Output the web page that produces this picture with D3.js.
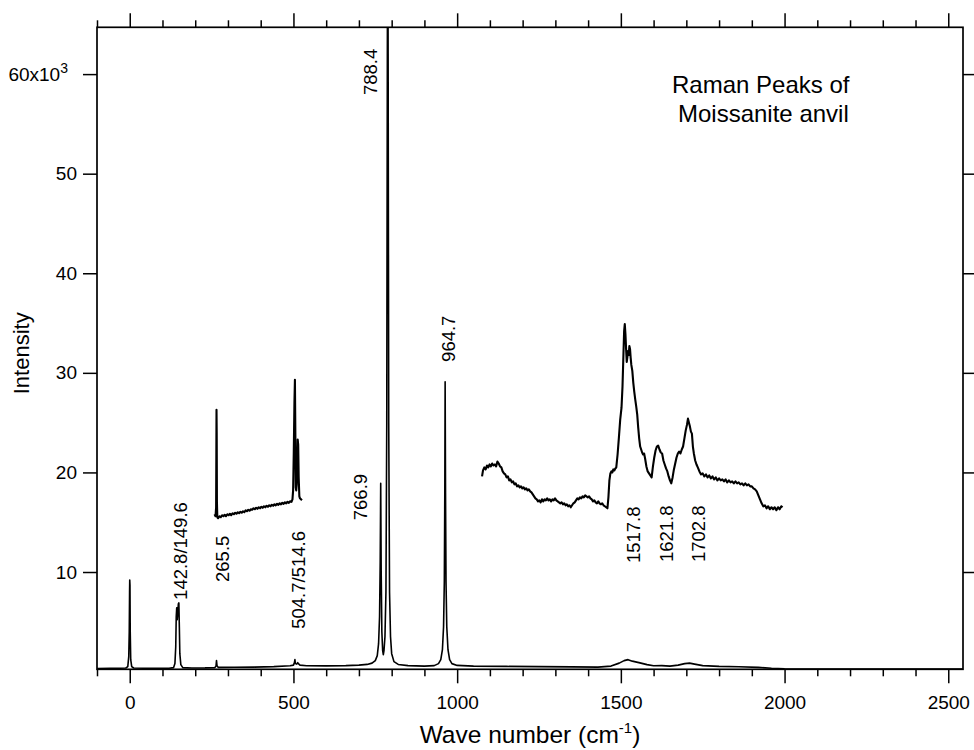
<!DOCTYPE html>
<html>
<head>
<meta charset="utf-8">
<script src="https://cdn.jsdelivr.net/npm/d3@7"></script>
<style>
  body { margin: 0; background: #fff; }
  text { font-family: Arial, 'Liberation Sans', Helvetica, sans-serif; fill: #000; }
</style>
</head>
<body>
<script>
// wave number (cm-1), intensity in units of 10^3
var mainSpectrum = [
  [-100,0.3],[-60,0.32],[-30,0.33],[-12,0.36],[-6,0.5],[-3,1.5],[-1.5,4],[-0.5,8],[0,9.2],[0.7,8.7],[1.5,4],[3,1.2],[6,0.5],[12,0.36],
  [40,0.33],[80,0.33],[120,0.34],[134,0.4],[138,0.8],[140.5,2.5],[142,5.5],[143.5,6.4],[145,5.2],[146.5,5.8],[148.5,6.8],[150,6.9],
  [151.5,4.5],[153,1.8],[156,0.7],[162,0.4],[190,0.36],[230,0.37],[260,0.4],[263.5,0.55],[265,1.1],[266.5,0.6],[270,0.42],[320,0.43],
  [380,0.45],[440,0.5],[490,0.58],[500,0.65],[503,0.9],[504.5,1.2],[506,0.8],[510,0.75],[513,0.9],[515,0.8],[520,0.65],[540,0.58],
  [600,0.57],[660,0.6],[700,0.65],[725,0.72],[740,0.85],[750,1.1],[756,1.6],[760,2.8],[763,5.5],[765,11],[766.5,18.9],[768,10],
  [770,4],[772.5,2.1],[774.5,1.7],[776.5,2.1],[779.5,3.5],[782.5,8],[785,25],[786.8,62],[788,80],[789.2,62],[791,25],[793.5,8],
  [796.5,3.5],[800,1.8],[807,1.0],[820,0.72],[850,0.6],[900,0.55],[930,0.6],[943,0.8],[950,1.2],[955,2.2],[958.5,4.5],[960.8,9],
  [962.3,18],[963.3,29.1],[964.5,18],[966,9],[968.3,4.5],[972,2.2],[977,1.2],[984,0.8],[1000,0.62],[1050,0.55],[1150,0.52],
  [1250,0.5],[1350,0.47],[1430,0.45],[1470,0.55],[1495,0.85],[1510,1.1],[1522,1.2],[1535,1.05],[1555,0.9],[1580,0.7],[1600,0.58],
  [1625,0.6],[1650,0.55],[1675,0.65],[1695,0.8],[1710,0.85],[1725,0.75],[1750,0.6],[1800,0.52],[1860,0.48],[1920,0.42],[1960,0.33],
  [2000,0.28],[2100,0.26],[2250,0.25],[2400,0.26],[2545,0.25]
];

// magnified low-frequency part (offset)
var insetLow = [
  [259,15.8],[262,15.6],[263.8,16.5],[264.5,22],[265,26.3],[265.6,24],[266.3,17],[267.5,15.5],[270,15.4],[274,15.6],[278,15.5],
  [282,15.7],[286,15.6],[290,15.75],[294,15.6],[298,15.8],[302,15.7],[306,15.85],[310,15.7],[314,15.9],[318,15.8],[322,15.95],
  [326,15.85],[330,16.0],[334,15.9],[338,16.05],[342,15.95],[346,16.1],[350,16.0],[354,16.2],[358,16.1],[362,16.25],[366,16.15],
  [370,16.3],[374,16.25],[378,16.4],[382,16.3],[386,16.45],[390,16.35],[394,16.5],[398,16.4],[402,16.55],[406,16.45],[410,16.6],
  [414,16.5],[418,16.65],[422,16.55],[426,16.7],[430,16.6],[434,16.75],[438,16.65],[442,16.8],[446,16.7],[450,16.85],[454,16.75],
  [458,16.9],[462,16.8],[466,16.95],[470,16.85],[474,17.0],[478,16.9],[482,17.05],[486,16.95],[490,17.1],[494,17.05],[497,17.3],
  [499,18.2],[501,22],[503,27],[504.5,29.3],[505.8,24],[507,18.5],[508.5,18.2],[510,18.8],[511.5,20.5],[513,23.3],[514.5,22.8],
  [516,19.5],[518,17.6],[520,17.4],[523,17.3],[526,17.2]
];

// magnified high-frequency part (offset)
var insetHigh = [
  [1076,19.6],[1079,20.2],[1083,20.5],[1087,20.3],[1091,20.7],[1095,20.5],[1099,20.8],[1103,20.6],[1107,20.9],[1111,20.7],
  [1115,20.8],[1119,20.6],[1123,21.1],[1127,20.9],[1131,20.6],[1135,20.5],[1139,20.1],[1143,19.9],[1147,19.8],[1151,19.5],
  [1155,19.6],[1159,19.2],[1163,19.3],[1167,19.0],[1171,19.1],[1175,18.8],[1179,18.9],[1183,18.6],[1187,18.7],[1191,18.5],
  [1195,18.6],[1199,18.4],[1203,18.5],[1207,18.3],[1211,18.4],[1215,18.2],[1219,18.3],[1223,18.1],[1227,18.0],[1231,17.8],
  [1235,17.6],[1239,17.4],[1243,17.3],[1247,17.1],[1251,17.2],[1255,17.0],[1259,17.3],[1263,17.1],[1267,17.3],[1271,17.2],
  [1275,17.4],[1279,17.2],[1283,17.3],[1287,17.1],[1291,17.3],[1295,17.2],[1299,17.4],[1303,17.2],[1307,17.1],[1311,17.0],
  [1315,16.9],[1319,17.0],[1323,16.8],[1327,16.9],[1331,16.7],[1335,16.8],[1339,16.6],[1343,16.7],[1347,16.5],[1351,16.7],
  [1355,16.9],[1359,17.0],[1363,17.2],[1367,17.4],[1371,17.3],[1375,17.5],[1379,17.4],[1383,17.6],[1387,17.5],[1391,17.7],
  [1395,17.6],[1399,17.5],[1403,17.6],[1407,17.4],[1411,17.3],[1415,17.1],[1419,17.2],[1423,17.0],[1427,16.9],[1431,17.1],
  [1435,16.9],[1439,16.8],[1443,16.9],[1447,16.7],[1451,16.6],[1455,16.5],[1459,16.4],[1462,17.5],[1465,19.2],[1468,19.9],
  [1471,20.1],[1474,20.0],[1477,20.3],[1480,20.2],[1483,20.4],[1486,20.5],[1490,21.8],[1494,23.5],[1498,25.3],[1502,26.5],
  [1505,28.6],[1508,32.0],[1510,34.2],[1512,34.9],[1514,33.9],[1516,32.4],[1518,31.1],[1520,31.6],[1522,32.2],[1524,31.8],
  [1526,32.7],[1528,32.4],[1530,31.5],[1532,30.8],[1535,30.2],[1538,29.0],[1541,28.1],[1544,27.3],[1547,26.6],[1550,25.8],
  [1553,24.5],[1556,23.4],[1559,22.6],[1562,22.3],[1565,22.0],[1568,21.8],[1571,21.9],[1574,21.4],[1578,20.6],[1582,20.1],
  [1586,19.9],[1590,19.7],[1594,19.5],[1598,20.6],[1602,21.5],[1606,22.2],[1610,22.6],[1614,22.7],[1618,22.3],[1622,22.0],
  [1626,21.9],[1630,21.2],[1634,20.8],[1638,20.4],[1642,20.1],[1646,19.6],[1650,19.2],[1654,18.9],[1658,19.5],[1662,20.3],
  [1666,20.9],[1670,21.5],[1674,21.9],[1678,22.1],[1682,21.9],[1686,22.3],[1690,22.6],[1694,23.4],[1698,24.2],[1702,24.8],
  [1705,25.4],[1708,25.0],[1711,24.6],[1714,24.1],[1717,23.9],[1720,22.6],[1723,21.9],[1727,21.2],[1731,20.8],[1735,20.5],
  [1740,20.1],[1745,19.8],[1750,19.9],[1755,19.6],[1760,19.8],[1765,19.5],[1770,19.7],[1775,19.4],[1780,19.6],[1785,19.3],
  [1790,19.5],[1795,19.2],[1800,19.4],[1805,19.2],[1810,19.3],[1815,19.1],[1820,19.3],[1825,19.0],[1830,19.2],[1835,19.0],
  [1840,19.1],[1845,18.9],[1850,19.1],[1855,18.9],[1860,19.0],[1865,18.8],[1870,18.9],[1875,18.7],[1880,18.9],[1885,18.7],
  [1890,18.8],[1895,18.6],[1900,18.6],[1905,18.4],[1910,18.3],[1915,18.1],[1920,17.7],[1925,17.3],[1930,16.9],[1935,16.6],
  [1940,16.7],[1945,16.4],[1950,16.6],[1955,16.3],[1960,16.5],[1965,16.3],[1970,16.5],[1975,16.2],[1980,16.5],[1985,16.3],
  [1990,16.6],[1994,16.5]
];

var peakLabels = ['142.8/149.6', '265.5', '504.7/514.6', '766.9', '788.4', '964.7', '1517.8', '1621.8', '1702.8'];
var labelWave = [175, 303, 535, 724, 755, 993, 1557, 1658, 1757];
var labelInt = [7.2, 9.0, 4.3, 15.2, 57.9, 31.1, 10.9, 11.0, 11.0];

var xMajor = [0, 500, 1000, 1500, 2000, 2500];
var xMinor = d3.range(-100, 2545, 100).filter(function (d) { return d % 500 !== 0; });
var yTicks = [10, 20, 30, 40, 50, 60];
var noteLines = ['Raman Peaks of', 'Moissanite anvil'];

var width = 974, height = 750;
var margin = {top: 27.3, right: 11, bottom: 80.7, left: 97};
var plotL = margin.left, plotR = width - margin.right,
  plotT = margin.top, plotB = height - margin.bottom;

var svg = d3.select('body').append('svg').attr('width', width).attr('height', height);

var x = d3.scaleLinear().domain([-100, 2545]).range([plotL, plotR]);
var y = d3.scaleLinear().domain([0.23, 64.7]).range([plotB, plotT]);

svg.append('clipPath').attr('id', 'plotclip')
  .append('rect').attr('x', plotL).attr('y', plotT).attr('width', plotR - plotL).attr('height', plotB - plotT);

function styleAxis(g) {
  g.select('.domain').remove();
  g.selectAll('.tick line').attr('stroke', '#000').attr('stroke-width', 1.5);
  g.selectAll('.tick text').attr('font-size', 19).style('font-family', 'Arial, "Liberation Sans", sans-serif');
}

// bottom axis
svg.append('g').attr('transform', 'translate(0,' + plotB + ')')
  .call(d3.axisBottom(x).tickValues(xMajor).tickSize(14).tickSizeOuter(0).tickPadding(12).tickFormat(d3.format('d')))
  .call(styleAxis);
svg.append('g').attr('transform', 'translate(0,' + plotB + ')')
  .call(d3.axisBottom(x).tickValues(xMinor).tickSize(7).tickSizeOuter(0).tickFormat(''))
  .call(styleAxis);
// top axis
svg.append('g').attr('transform', 'translate(0,' + plotT + ')')
  .call(d3.axisTop(x).tickValues(xMajor).tickSize(14).tickSizeOuter(0).tickFormat(''))
  .call(styleAxis);
svg.append('g').attr('transform', 'translate(0,' + plotT + ')')
  .call(d3.axisTop(x).tickValues(xMinor).tickSize(7).tickSizeOuter(0).tickFormat(''))
  .call(styleAxis);
// left axis
var yAxisG = svg.append('g').attr('transform', 'translate(' + plotL + ',0)')
  .call(d3.axisLeft(y).tickValues(yTicks).tickSize(14).tickSizeOuter(0).tickPadding(6))
  .call(styleAxis);
yAxisG.selectAll('.tick text').filter(function (d) { return d === 60; })
  .attr('x', -29)
  .text('60x10')
  .append('tspan').attr('dy', -8).attr('font-size', 14).text('3');
// right axis
svg.append('g').attr('transform', 'translate(' + plotR + ',0)')
  .call(d3.axisRight(y).tickValues(yTicks).tickSize(11).tickSizeOuter(0).tickFormat(''))
  .call(styleAxis);

// frame
svg.append('rect')
  .attr('x', plotL).attr('y', plotT).attr('width', plotR - plotL).attr('height', plotB - plotT)
  .attr('fill', 'none').attr('stroke', '#000').attr('stroke-width', 1.7);

var line = d3.line()
  .x(function (d) { return x(d[0]); })
  .y(function (d) { return y(d[1]); });

var plot = svg.append('g').attr('clip-path', 'url(#plotclip)');
plot.append('path').datum(mainSpectrum)
  .attr('d', line).attr('fill', 'none').attr('stroke', '#000').attr('stroke-width', 1.6)
  .attr('stroke-linejoin', 'round');
plot.append('path').datum(insetLow)
  .attr('d', line).attr('fill', 'none').attr('stroke', '#000').attr('stroke-width', 2.1)
  .attr('stroke-linejoin', 'round');
plot.append('path').datum(insetHigh)
  .attr('d', line).attr('fill', 'none').attr('stroke', '#000').attr('stroke-width', 2.1)
  .attr('stroke-linejoin', 'round');

// peak labels, rotated
svg.selectAll('.peak')
  .data(peakLabels)
  .enter().append('text')
  .attr('class', 'peak')
  .attr('font-size', 18.5)
  .attr('transform', function (d, i) {
    return 'translate(' + x(labelWave[i]) + ',' + y(labelInt[i]) + ') rotate(-90)';
  })
  .text(function (d) { return d; });

// note
svg.selectAll('.note')
  .data(noteLines)
  .enter().append('text')
  .attr('class', 'note')
  .attr('font-size', 24)
  .attr('x', function (d, i) { return i === 0 ? 672 : 678; })
  .attr('y', function (d, i) { return 93 + i * 29; })
  .text(function (d) { return d; });

// axis titles
var xt = svg.append('text')
  .attr('x', (plotL + plotR) / 2).attr('y', 743)
  .attr('text-anchor', 'middle').attr('font-size', 24.5)
  .text('Wave number (cm');
xt.append('tspan').attr('dy', -10).attr('font-size', 15).text('-1');
xt.append('tspan').attr('dy', 10).text(')');

svg.append('text')
  .attr('transform', 'translate(29,' + ((plotT + plotB) / 2 + 5) + ') rotate(-90)')
  .attr('text-anchor', 'middle').attr('font-size', 22)
  .text('Intensity');
</script>
</body>
</html>
